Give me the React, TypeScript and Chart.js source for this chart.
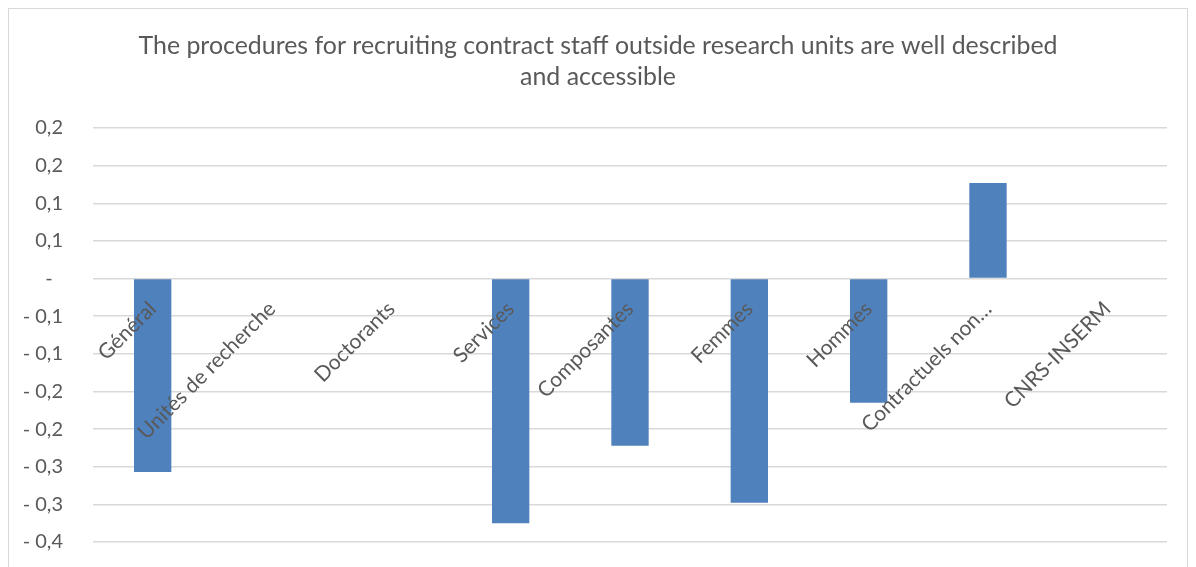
import React, { useEffect, useRef } from "react";
import { Chart, registerables } from "chart.js";

Chart.register(...registerables);

const titleLines = [
  "The procedures for recruiting contract staff outside research units are well described",
  "and accessible",
];

const categories = [
  "Général",
  "Unités de recherche",
  "Doctorants",
  "Services",
  "Composantes",
  "Femmes",
  "Hommes",
  "Contractuels non…",
  "CNRS-INSERM",
];

const values: (number | null)[] = [
  -0.257, null, null, -0.325, -0.222, -0.298, -0.165, 0.127, null,
];

// top to bottom
const yTickLabels = [
  "0,2", "0,2", "0,1", "0,1", "-  ", "- 0,1", "- 0,1", "- 0,2", "- 0,2", "- 0,3", "- 0,3", "- 0,4",
];

const yMin = -0.35;
const yMax = 0.2;
const yStep = 0.05;

const FONT = "Lato";
const TEXT = "#595959";
const GRID = "#D9D9D9";
const BAR = "#4F81BD";

export default function App() {
  const ref = useRef<HTMLCanvasElement | null>(null);

  useEffect(() => {
    document.documentElement.style.overflow = "hidden";
    const canvas = ref.current;
    if (!canvas) return;
    const chart = new Chart(canvas, {
      type: "bar",
      data: {
        labels: categories,
        datasets: [
          {
            data: values,
            backgroundColor: BAR,
            borderWidth: 0,
            categoryPercentage: 1,
            barPercentage: 0.313,
          },
        ],
      },
      options: {
        responsive: false,
        animation: false,
        devicePixelRatio: 1,
        layout: { padding: { top: 0, right: 0, bottom: 25, left: 0 } },
        plugins: {
          legend: { display: false },
          tooltip: { enabled: false },
          title: {
            display: true,
            text: titleLines,
            color: TEXT,
            font: { family: FONT, size: 24.9, weight: "normal", lineHeight: 31 / 24.9 },
            padding: { top: 21, bottom: 36 },
          },
        },
        scales: {
          x: {
            position: { y: 0 } as any,
            grid: { display: false, drawTicks: false },
            border: { display: false },
            ticks: {
              z: 1,
              color: TEXT,
              font: { family: FONT, size: 21 },
              minRotation: 45,
              maxRotation: 45,
              autoSkip: false,
              padding: 18,
            },
            afterFit: (scale: any) => {
              scale.height = 0;
              scale.paddingLeft = 0;
              scale.paddingRight = 0;
              scale.paddingTop = 0;
              scale.paddingBottom = 0;
            },
          },
          y: {
            min: yMin,
            max: yMax,
            grid: { color: GRID, lineWidth: 1.5, drawTicks: false },
            border: { display: false },
            ticks: {
              stepSize: yStep,
              color: TEXT,
              padding: 30,
              font: { family: FONT, size: 20 },
              callback: (_v: any, i: number, ticks: any[]) =>
                yTickLabels[ticks.length - 1 - i],
            },
            afterFit: (scale: any) => {
              scale.width = 84;
              scale.paddingTop = 0;
              scale.paddingBottom = 0;
            },
          },
          yRight: {
            axis: "y",
            position: "right",
            min: yMin,
            max: yMax,
            grid: { display: false, drawTicks: false },
            border: { display: false },
            ticks: { display: false },
            afterFit: (scale: any) => {
              scale.width = 20;
              scale.paddingTop = 0;
              scale.paddingBottom = 0;
            },
          },
        },
      },
    });
    return () => chart.destroy();
  }, []);

  return (
    <div
      style={{
        width: 1178,
        height: 600,
        border: "1px solid #D9D9D9",
        background: "#fff",
      }}
    >
      <canvas ref={ref} width={1178} height={558} style={{ display: "block" }} />
    </div>
  );
}
